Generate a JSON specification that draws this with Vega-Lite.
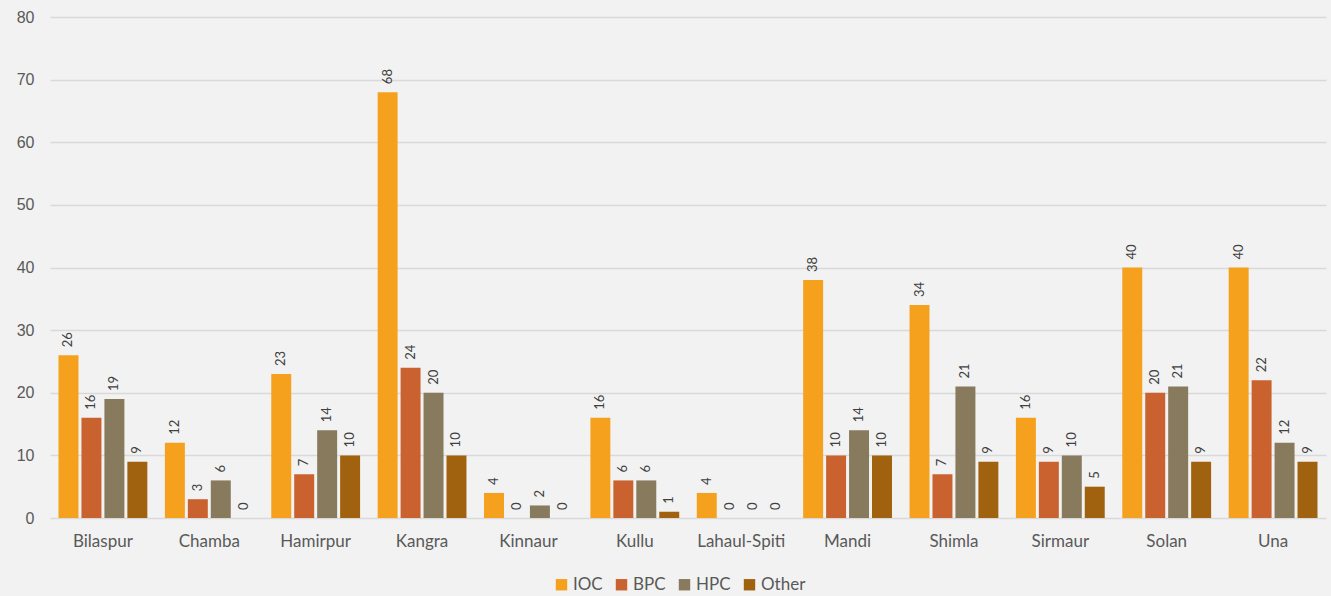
{
  "$schema": "https://vega.github.io/schema/vega-lite/v6.json",
  "autosize": "none",
  "width": 1276,
  "height": 501,
  "padding": {"left": 50, "top": 17, "right": 5, "bottom": 78},
  "background": "#f2f2f2",
  "config": {"view": {"stroke": null}, "font": "Lato"},
  "data": {"values": [
    {"district": "Bilaspur", "company": "IOC", "value": 26},
    {"district": "Bilaspur", "company": "BPC", "value": 16},
    {"district": "Bilaspur", "company": "HPC", "value": 19},
    {"district": "Bilaspur", "company": "Other", "value": 9},
    {"district": "Chamba", "company": "IOC", "value": 12},
    {"district": "Chamba", "company": "BPC", "value": 3},
    {"district": "Chamba", "company": "HPC", "value": 6},
    {"district": "Chamba", "company": "Other", "value": 0},
    {"district": "Hamirpur", "company": "IOC", "value": 23},
    {"district": "Hamirpur", "company": "BPC", "value": 7},
    {"district": "Hamirpur", "company": "HPC", "value": 14},
    {"district": "Hamirpur", "company": "Other", "value": 10},
    {"district": "Kangra", "company": "IOC", "value": 68},
    {"district": "Kangra", "company": "BPC", "value": 24},
    {"district": "Kangra", "company": "HPC", "value": 20},
    {"district": "Kangra", "company": "Other", "value": 10},
    {"district": "Kinnaur", "company": "IOC", "value": 4},
    {"district": "Kinnaur", "company": "BPC", "value": 0},
    {"district": "Kinnaur", "company": "HPC", "value": 2},
    {"district": "Kinnaur", "company": "Other", "value": 0},
    {"district": "Kullu", "company": "IOC", "value": 16},
    {"district": "Kullu", "company": "BPC", "value": 6},
    {"district": "Kullu", "company": "HPC", "value": 6},
    {"district": "Kullu", "company": "Other", "value": 1},
    {"district": "Lahaul-Spiti", "company": "IOC", "value": 4},
    {"district": "Lahaul-Spiti", "company": "BPC", "value": 0},
    {"district": "Lahaul-Spiti", "company": "HPC", "value": 0},
    {"district": "Lahaul-Spiti", "company": "Other", "value": 0},
    {"district": "Mandi", "company": "IOC", "value": 38},
    {"district": "Mandi", "company": "BPC", "value": 10},
    {"district": "Mandi", "company": "HPC", "value": 14},
    {"district": "Mandi", "company": "Other", "value": 10},
    {"district": "Shimla", "company": "IOC", "value": 34},
    {"district": "Shimla", "company": "BPC", "value": 7},
    {"district": "Shimla", "company": "HPC", "value": 21},
    {"district": "Shimla", "company": "Other", "value": 9},
    {"district": "Sirmaur", "company": "IOC", "value": 16},
    {"district": "Sirmaur", "company": "BPC", "value": 9},
    {"district": "Sirmaur", "company": "HPC", "value": 10},
    {"district": "Sirmaur", "company": "Other", "value": 5},
    {"district": "Solan", "company": "IOC", "value": 40},
    {"district": "Solan", "company": "BPC", "value": 20},
    {"district": "Solan", "company": "HPC", "value": 21},
    {"district": "Solan", "company": "Other", "value": 9},
    {"district": "Una", "company": "IOC", "value": 40},
    {"district": "Una", "company": "BPC", "value": 22},
    {"district": "Una", "company": "HPC", "value": 12},
    {"district": "Una", "company": "Other", "value": 9}
  ]},
  "encoding": {
    "x": {"field": "district", "type": "nominal", "sort": null, "title": null,
      "scale": {"paddingInner": 0.165, "paddingOuter": 0.08},
      "axis": {"labelAngle": 0, "domain": false, "ticks": false, "labelFontSize": 17, "labelColor": "#595959", "labelPadding": 15, "labelFont": "Lato"}},
    "xOffset": {"field": "company", "type": "nominal", "sort": ["IOC", "BPC", "HPC", "Other"], "scale": {"paddingInner": 0.13}},
    "y": {"field": "value", "type": "quantitative", "title": null,
      "scale": {"domain": [0, 80], "nice": false},
      "axis": {"values": [0, 10, 20, 30, 40, 50, 60, 70, 80], "domain": false, "ticks": false, "labelFontSize": 16, "labelColor": "#595959", "labelPadding": 16, "labelFont": "Liberation Sans", "gridColor": "#d9d9d9", "gridWidth": 1.5}}
  },
  "layer": [
    {
      "mark": {"type": "bar"},
      "encoding": {
        "color": {"field": "company", "type": "nominal", "sort": ["IOC", "BPC", "HPC", "Other"],
          "scale": {"domain": ["IOC", "BPC", "HPC", "Other"], "range": ["#F6A11E", "#CA6230", "#877A5D", "#A0620F"]},
          "legend": {"title": null, "orient": "none", "legendX": 503, "legendY": 559, "direction": "horizontal", "symbolType": "square", "symbolSize": 130, "symbolStrokeWidth": 0, "symbolOpacity": 1, "labelFontSize": 17, "labelColor": "#595959", "labelFont": "Lato", "columnPadding": 10, "labelOffset": 3}}
      }
    },
    {
      "mark": {"type": "text", "angle": -90, "align": "left", "baseline": "middle", "dx": 8, "fontSize": 13, "color": "#404040", "font": "Lato"},
      "encoding": {"text": {"field": "value", "type": "quantitative"}}
    }
  ]
}
